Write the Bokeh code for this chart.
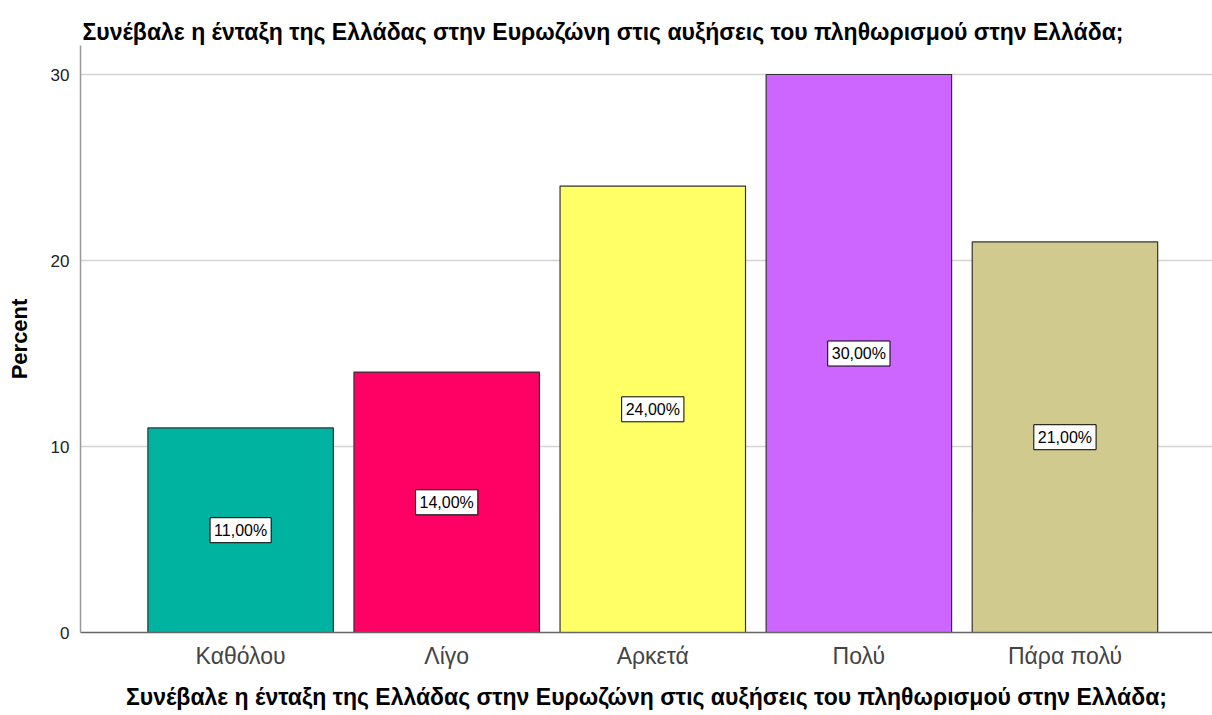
from bokeh.plotting import figure
from bokeh.models import ColumnDataSource, FixedTicker, Range1d
from bokeh.embed import file_html
from bokeh.resources import INLINE
from bokeh.core.properties import value

categories = ["Καθόλου", "Λίγο", "Αρκετά", "Πολύ", "Πάρα πολύ"]
percents = [11.0, 14.0, 24.0, 30.0, 21.0]
colors = ["#00b3a0", "#ff0064", "#ffff66", "#cc66ff", "#d1ca8f"]
y_ticks = [0, 10, 20, 30]
title_text = "Συνέβαλε η ένταξη της Ελλάδας στην Ευρωζώνη στις αυξήσεις του πληθωρισμού στην Ελλάδα;"

xs = list(range(len(categories)))
src = ColumnDataSource(dict(
    x=xs,
    top=percents,
    mid=[v / 2 for v in percents],
    color=colors,
    label=[f"{v:.2f}".replace(".", ",") + "%" for v in percents],
))

FONT = "Liberation Sans"

p = figure(width=1212, height=712, output_backend="svg", toolbar_location=None,
           x_range=Range1d(-0.777, 4.716), y_range=Range1d(0, 31.56),
           min_border_left=80, min_border_right=0, min_border_top=45, min_border_bottom=80,
           title=title_text)
p.outline_line_color = None
p.background_fill_color = "white"

p.title.text_font = FONT
p.title.text_font_size = "23px"
p.title.text_font_style = "bold"
p.title.text_color = "black"
p.title.offset = 2
p.title.standoff = 1

p.vbar(x="x", top="top", bottom=0, width=0.9, source=src, fill_color="color",
       line_color="#333333", line_width=1.2)

p.text(x="x", y="mid", text="label", source=src, text_align="center", text_baseline="middle",
       text_font=value(FONT), text_font_size="16px", text_color="black",
       background_fill_color="white", border_line_color="black", border_line_width=1,
       padding=4)

p.xgrid.visible = False
p.ygrid.grid_line_color = "#d4d4d4"
p.ygrid.grid_line_width = 1.5
p.yaxis.ticker = FixedTicker(ticks=y_ticks)
p.xaxis.ticker = FixedTicker(ticks=xs)
p.xaxis.major_label_overrides = {i: c for i, c in enumerate(categories)}

for ax in (p.xaxis[0], p.yaxis[0]):
    ax.major_tick_line_color = None
    ax.minor_tick_line_color = None

p.yaxis.axis_line_color = "#999999"
p.yaxis.axis_line_width = 1.5
p.yaxis.major_label_text_font = FONT
p.yaxis.major_label_text_font_size = "17px"
p.yaxis.major_label_text_color = "#222222"
p.yaxis.major_label_standoff = 5
p.yaxis.axis_label = "Percent"
p.yaxis.axis_label_text_font = FONT
p.yaxis.axis_label_text_font_size = "22px"
p.yaxis.axis_label_text_font_style = "bold"
p.yaxis.axis_label_text_color = "black"
p.yaxis.axis_label_standoff = 16

p.xaxis.axis_line_color = "#666666"
p.xaxis.axis_line_width = 1.5
p.xaxis.major_label_text_font = FONT
p.xaxis.major_label_text_font_size = "23px"
p.xaxis.major_label_text_color = "#444444"
p.xaxis.major_label_standoff = 4
p.xaxis.axis_label = title_text
p.xaxis.axis_label_text_font = FONT
p.xaxis.axis_label_text_font_size = "23px"
p.xaxis.axis_label_text_font_style = "bold"
p.xaxis.axis_label_text_color = "black"
p.xaxis.axis_label_standoff = 12

open("out.html", "w").write(file_html(p, INLINE))
